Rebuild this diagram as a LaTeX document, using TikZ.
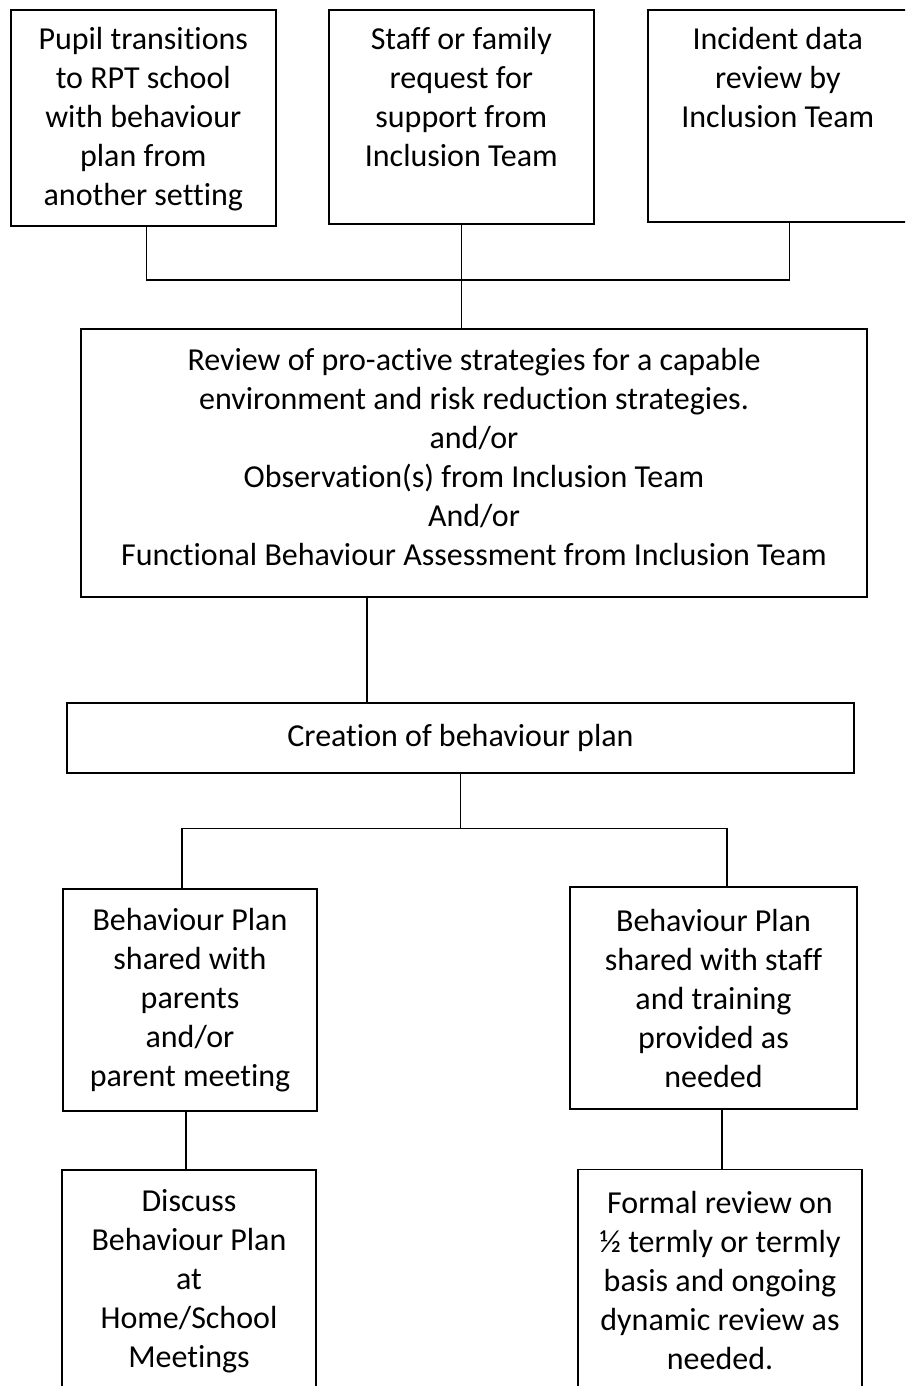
\documentclass[tikz,border=0pt]{standalone}
\usepackage{fontspec}
\setmainfont{Carlito}[Ligatures=NoCommon]
\usetikzlibrary{positioning}
\tikzstyle{block}=[draw,fill=white,rectangle,line width=.8pt,inner sep=0pt,align=center]
\tikzstyle{every node}=[font=\fontsize{16}{19.5}\selectfont]
\tikzstyle{words}=[align=center,inner sep=0pt]
\tikzstyle{link}=[line width=.6pt]

\begin{document}
\begin{tikzpicture}[x=.5pt,y=-.5pt]
    \clip (0,0) rectangle (905,1386);
    % three ways in
    \node[block, anchor=north west, minimum width=132.5pt, minimum height=108pt] (pupil) at (10,9) {};
    \node[block, anchor=north west, minimum width=132.5pt, minimum height=107pt] (request) at (328,9) {};
    \node[block, anchor=north west, minimum width=130pt, minimum height=106pt] (incident) at (647,9) {};
    \node[words, below=9pt of pupil.north] (pupiltext) {Pupil transitions\\to RPT school\\with behaviour\\plan from\\another setting};
    \node[words, below=9pt of request.north] (requesttext) {Staff or family\\request for\\support from\\Inclusion Team};
    \node[words, below=9pt of incident.north] (incidenttext) {Incident data\\review by\\Inclusion Team};
    % review and plan
    \node[block, minimum width=393pt, minimum height=134pt, text depth=6pt] (review) at (474,463) {Review of pro-active strategies for a capable\\environment and risk reduction strategies.\\and/or\\Observation(s) from Inclusion Team\\And/or\\Functional Behaviour Assessment from Inclusion Team};
    \node[block, minimum width=393.5pt, minimum height=35pt] (creation) at (460.5,738) {Creation of behaviour plan};
    % two branches
    \node[block, minimum width=127pt, minimum height=111pt] (parents) at (190,1000) {Behaviour Plan\\shared with\\parents\\and/or\\parent meeting};
    \node[block, minimum width=143.5pt, minimum height=111pt] (staffplan) at (713.5,998) {Behaviour Plan\\shared with staff\\and training\\provided as\\needed};
    \node[block, minimum width=127pt, minimum height=111pt] (discuss) at (189,1281) {Discuss\\Behaviour Plan\\at\\Home/School\\Meetings};
    \node[block, minimum width=142pt, minimum height=111pt] (formal) at (720,1280.5) {Formal review on\\½ termly or termly\\basis and ongoing\\dynamic review as\\needed.};
    % connectors
    \coordinate (merge) at (460,280);
    \draw[link] ([xshift=1.75pt]pupil.south) |- (merge) -| ([xshift=6pt]incident.south);
    \draw[link] (request.south) -- (request.south |- review.north);
    \draw[link] ([xshift=-53.5pt]review.south) -- ([xshift=-53.5pt]review.south |- creation.north);
    \draw[link] (creation.south) -- ++(0,55) coordinate (split);
    \draw[link] ([xshift=-4pt]parents.north) |- (split) -| ([xshift=6.75pt]staffplan.north);
    \draw[link] ([xshift=-2pt]parents.south) -- ([xshift=-2pt]parents.south |- discuss.north);
    \draw[link] ([xshift=4.25pt]staffplan.south) -- ([xshift=4.25pt]staffplan.south |- formal.north);
\end{tikzpicture}
\end{document}
